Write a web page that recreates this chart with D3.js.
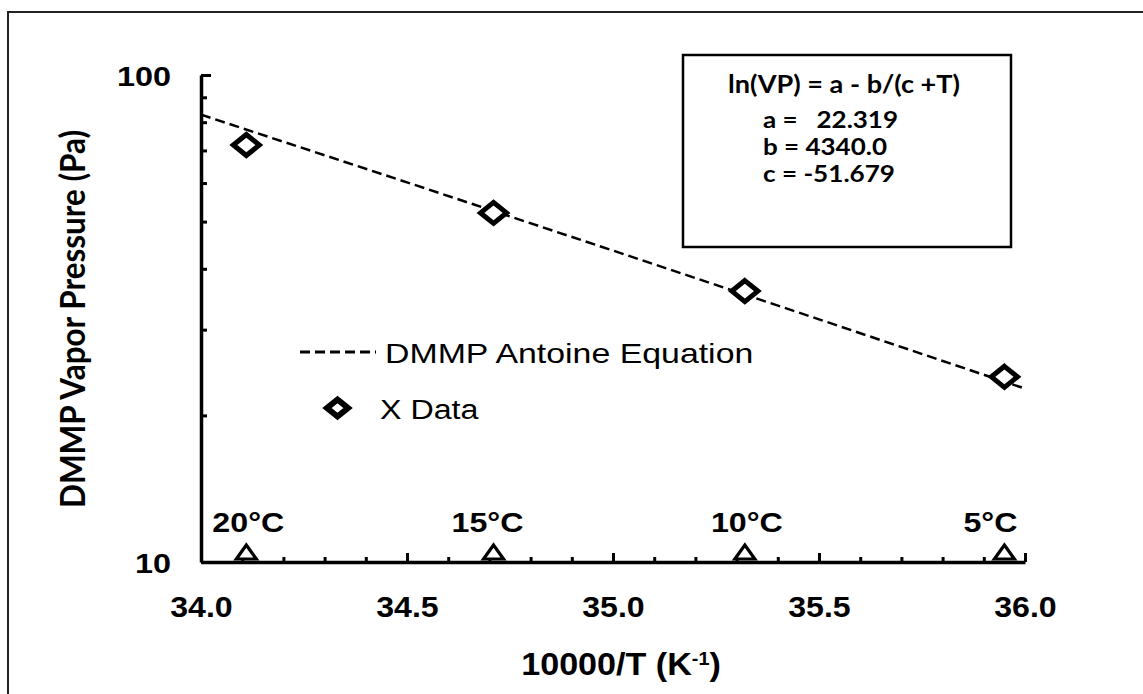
<!DOCTYPE html>
<html lang="en">
<head>
<meta charset="UTF-8">
<title>DMMP Vapor Pressure</title>
<script src="https://d3js.org/d3.v7.min.js"></script>
<style>
  body { margin: 0; background: #fff; }
  svg { display: block; }
  .arial { font-family: "Liberation Sans", Arial, sans-serif; }
  .calib { font-family: Lato, "Open Sans", sans-serif; font-weight: bold; }
</style>
</head>
<body>
<svg id="chart" width="1143" height="694"></svg>
<script>
// ---- data ----
var xMajorTicks = [34.0, 34.5, 35.0, 35.5, 36.0];
var yTicks = [10, 100];
var yMinorTicks = [20, 30, 40, 50, 60, 70, 80, 90];
var tempLabels = ["20°C", "15°C", "10°C", "5°C"];
var tempX = [34.11, 34.71, 35.32, 35.95];      // 10000/T at each temperature
var dataVP = [71.8, 52.1, 36.0, 24.0];          // X Data (Pa)
var fitX = [34.0, 34.5, 35.0, 35.5, 36.0];
var fitVP = [82.9, 60.2, 43.6, 31.5, 22.7];     // DMMP Antoine Equation (Pa)
var eqLines = ["ln(VP) = a - b/(c +T)", "a =   22.319", "b = 4340.0", "c = -51.679"];

var svg = d3.select("#chart");

// outer frame (only top and left edges are in view)
svg.append("rect").attr("x", 8).attr("y", 12).attr("width", 1300).attr("height", 900)
    .attr("fill", "none").attr("stroke", "#222").attr("stroke-width", 2);

var x = d3.scaleLinear().domain([34, 36]).range([201, 1025]);
var y = d3.scaleLog().domain([10, 100]).range([562, 75]);

function sText(sel, px, py, str, sx, anchor) {
    return sel.append("text")
        .attr("transform", "translate(" + px + "," + py + ") scale(" + sx + ",1)")
        .attr("text-anchor", anchor)
        .text(str);
}

// ---- axes ----
var minorX = d3.range(341, 360).filter(function (v) { return v % 5 !== 0; }).map(function (v) { return v / 10; });

var gxMinor = svg.append("g").attr("transform", "translate(0," + y(10) + ")")
    .call(d3.axisBottom(x).tickValues(minorX).tickSizeInner(-5).tickSizeOuter(0).tickFormat(""));
var gx = svg.append("g").attr("transform", "translate(0," + y(10) + ")")
    .call(d3.axisBottom(x).tickValues(xMajorTicks).tickSizeInner(-9).tickSizeOuter(0).tickFormat(d3.format(".1f")));
gx.selectAll("text")
    .attr("class", "arial").attr("y", 55).attr("dy", null)
    .attr("transform", "scale(1.07,1)")
    .style("font-size", "30px").style("font-weight", "bold").attr("fill", "#000");

var gyMinor = svg.append("g").attr("transform", "translate(" + x(34) + ",0)")
    .call(d3.axisLeft(y).tickValues(yMinorTicks).tickSizeInner(-6).tickSizeOuter(0).tickFormat(""));
var gy = svg.append("g").attr("transform", "translate(" + x(34) + ",0)")
    .call(d3.axisLeft(y).tickValues(yTicks).tickSizeInner(-10).tickSizeOuter(0).tickFormat(d3.format("d")));
gy.selectAll("text")
    .attr("class", "arial").attr("x", 0).attr("dy", null).attr("y", 10)
    .attr("transform", "translate(-30,0) scale(1.2,1)")
    .style("font-size", "27px").style("font-weight", "bold").attr("fill", "#000");

svg.selectAll(".domain").attr("stroke", "#000").attr("stroke-width", 3.5);
svg.selectAll(".tick line").attr("stroke", "#000").attr("stroke-width", 3);
gxMinor.select(".domain").remove();
gyMinor.select(".domain").remove();

// ---- fitted line ----
var fit = fitX.map(function (d, i) { return [d, fitVP[i]]; });
svg.append("path").datum(fit)
    .attr("fill", "none").attr("stroke", "#000").attr("stroke-width", 2.5)
    .attr("stroke-dasharray", "10,5")
    .attr("d", d3.line().x(function (d) { return x(d[0]); }).y(function (d) { return y(d[1]); }));

// ---- temperature markers ----
var labelDx = [2, -6, 2, -14];
tempX.forEach(function (t, i) {
    svg.append("path")
        .attr("transform", "translate(" + x(t) + "," + (y(10) - 3) + ")")
        .attr("d", "M-10,0 L10,0 L0,-14 Z")
        .attr("fill", "#fff").attr("stroke", "#000").attr("stroke-width", 3.2);
    sText(svg, x(t) + labelDx[i], 532, tempLabels[i], 1.15, "middle")
        .attr("class", "arial").style("font-size", "28px").style("font-weight", "bold");
});

// ---- data diamonds ----
tempX.forEach(function (t, i) {
    svg.append("path")
        .attr("transform", "translate(" + x(t) + "," + y(dataVP[i]) + ")")
        .attr("d", "M0,-10.5 L13,0 L0,10.5 L-13,0 Z")
        .attr("fill", "#fff").attr("stroke", "#000").attr("stroke-width", 5);
});

// ---- legend ----
svg.append("line").attr("x1", 300).attr("x2", 376).attr("y1", 352).attr("y2", 352)
    .attr("stroke", "#000").attr("stroke-width", 3).attr("stroke-dasharray", "10,5");
sText(svg, 385, 363, "DMMP Antoine Equation", 1.21, "start")
    .attr("class", "arial").style("font-size", "28px");
svg.append("path").attr("transform", "translate(337.5,408)")
    .attr("d", "M0,-8.5 L10.5,0 L0,8.5 L-10.5,0 Z")
    .attr("fill", "#fff").attr("stroke", "#000").attr("stroke-width", 6);
sText(svg, 380, 419, "X Data", 1.15, "start")
    .attr("class", "arial").style("font-size", "28px");

// ---- equation box ----
svg.append("rect").attr("x", 683).attr("y", 55).attr("width", 328).attr("height", 192)
    .attr("fill", "#fff").attr("stroke", "#000").attr("stroke-width", 2.5);
var eqPos = [[728, 93, 232], [763, 128, 135], [763, 155, 124], [763, 182, 132]];
eqLines.forEach(function (s, i) {
    svg.append("text").attr("class", "calib")
        .attr("x", eqPos[i][0]).attr("y", eqPos[i][1])
        .attr("textLength", eqPos[i][2]).attr("lengthAdjust", "spacingAndGlyphs")
        .style("font-size", i === 0 ? "24px" : "23px").style("white-space", "pre")
        .text(s);
});

// ---- axis titles ----
var xt = svg.append("text").attr("class", "arial")
    .attr("transform", "translate(621,675) scale(1.1,1)")
    .attr("text-anchor", "middle")
    .style("font-size", "31px").style("font-weight", "bold");
xt.append("tspan").text("10000/T (K");
xt.append("tspan").attr("baseline-shift", "super").style("font-size", "18px").text("-1");
xt.append("tspan").text(")");

svg.append("text").attr("class", "calib")
    .attr("transform", "translate(85,319) rotate(-90) scale(1,1.2)")
    .attr("text-anchor", "middle")
    .attr("textLength", 378).attr("lengthAdjust", "spacingAndGlyphs")
    .style("font-size", "29px")
    .text("DMMP Vapor Pressure (Pa)");
</script>
</body>
</html>
